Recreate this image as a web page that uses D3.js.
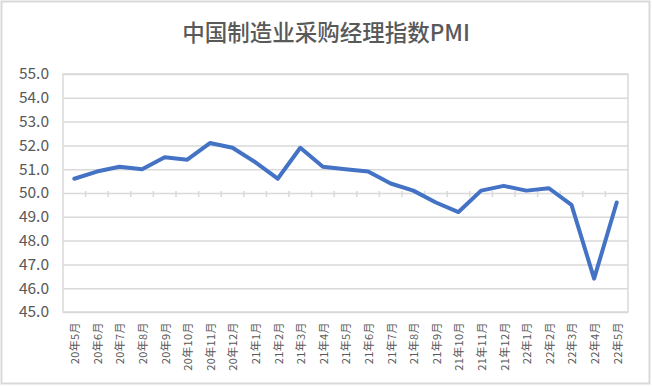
<!DOCTYPE html>
<html>
<meta charset="UTF-8">
<head>
  <style>
    body { margin: 0; background: #fff; }
    text { font-family: "Noto Sans CJK SC", "Noto Sans", sans-serif; }
  </style>
</head>
<script src="https://d3js.org/d3.v7.min.js"></script>
<body>
  <div id="chart"></div>
  <script>
    // months shown on the category axis
    var months = ["20年5月", "20年6月", "20年7月", "20年8月", "20年9月", "20年10月", "20年11月", "20年12月",
      "21年1月", "21年2月", "21年3月", "21年4月", "21年5月", "21年6月", "21年7月", "21年8月", "21年9月",
      "21年10月", "21年11月", "21年12月", "22年1月", "22年2月", "22年3月", "22年4月", "22年5月"];
    var pmi = [50.6, 50.9, 51.1, 51.0, 51.5, 51.4, 52.1, 51.9, 51.3, 50.6, 51.9, 51.1, 51.0,
      50.9, 50.4, 50.1, 49.6, 49.2, 50.1, 50.3, 50.1, 50.2, 49.5, 46.4, 49.6];
    var yTicks = [45, 46, 47, 48, 49, 50, 51, 52, 53, 54, 55];
    var title = "中国制造业采购经理指数PMI";

    var width = 652;
    var height = 386;
    var margin = { top: 74, right: 24, bottom: 74, left: 63 };
    var chartWidth = width - margin.left - margin.right;
    var chartHeight = height - margin.top - margin.bottom;

    var svg = d3.select("#chart").append("svg")
      .attr("width", width)
      .attr("height", height);

    // outer chart border
    svg.append("rect")
      .attr("x", 1.5).attr("y", 1.5)
      .attr("width", width - 4).attr("height", height - 4)
      .attr("fill", "#fff")
      .attr("stroke", "#d9d9d9")
      .attr("stroke-width", 2);

    svg.append("text")
      .attr("x", width / 2)
      .attr("y", 40.5)
      .attr("text-anchor", "middle")
      .attr("font-size", 22.5)
      .attr("font-weight", 500)
      .attr("fill", "#595959")
      .text(title);

    var g = svg.append("g")
      .attr("transform", "translate(" + margin.left + "," + margin.top + ")");

    var xScale = d3.scaleBand()
      .domain(months)
      .range([0, chartWidth]);

    var yScale = d3.scaleLinear()
      .domain([45, 55])
      .range([chartHeight, 0]);

    // horizontal gridlines
    var yGrid = d3.axisLeft(yScale)
      .tickValues(yTicks)
      .tickSize(-chartWidth)
      .tickFormat("");
    g.append("g")
      .attr("class", "grid")
      .call(yGrid)
      .call(s => s.select(".domain").remove())
      .call(s => s.selectAll("line").attr("stroke", "#d9d9d9").attr("stroke-width", 1.5));

    // plot area border
    g.append("rect")
      .attr("width", chartWidth)
      .attr("height", chartHeight)
      .attr("fill", "none")
      .attr("stroke", "#d9d9d9")
      .attr("stroke-width", 1.5);

    // y axis labels
    var yAxis = d3.axisLeft(yScale)
      .tickValues(yTicks)
      .tickSize(0)
      .tickPadding(14)
      .tickFormat(d3.format(".1f"));
    g.append("g")
      .call(yAxis)
      .call(s => s.select(".domain").remove())
      .call(s => s.selectAll("text")
        .attr("font-size", 15.5)
        .attr("fill", "#595959")
        .style("font-family", "'Noto Sans CJK SC', sans-serif"));

    // category axis crossing at 50, ticks at category boundaries
    var boundaries = months.slice(1).map(m => xScale(m));
    g.selectAll(".cross-tick")
      .data(boundaries)
      .enter()
      .append("line")
      .attr("class", "cross-tick")
      .attr("x1", d => d).attr("x2", d => d)
      .attr("y1", yScale(50) - 2)
      .attr("y2", yScale(50) + 4)
      .attr("stroke", "#d9d9d9")
      .attr("stroke-width", 1.5);

    // month labels below plot, rotated
    g.selectAll(".month")
      .data(months)
      .enter()
      .append("text")
      .attr("class", "month")
      .attr("transform", d => "translate(" + (xScale(d) + xScale.bandwidth() / 2 + 1) + "," + (chartHeight + 10) + ") rotate(-90)")
      .attr("text-anchor", "end")
      .attr("dy", "0.35em")
      .attr("font-size", 11)
      .attr("letter-spacing", 0.4)
      .attr("fill", "#595959")
      .text(d => d);

    // the PMI line
    var line = d3.line()
      .x((d, i) => xScale(months[i]) + xScale.bandwidth() / 2)
      .y(d => yScale(d));

    g.append("path")
      .datum(pmi)
      .attr("d", line)
      .attr("fill", "none")
      .attr("stroke", "#4472c4")
      .attr("stroke-width", 4)
      .attr("stroke-linejoin", "round")
      .attr("stroke-linecap", "round");
  </script>
</body>
</html>
